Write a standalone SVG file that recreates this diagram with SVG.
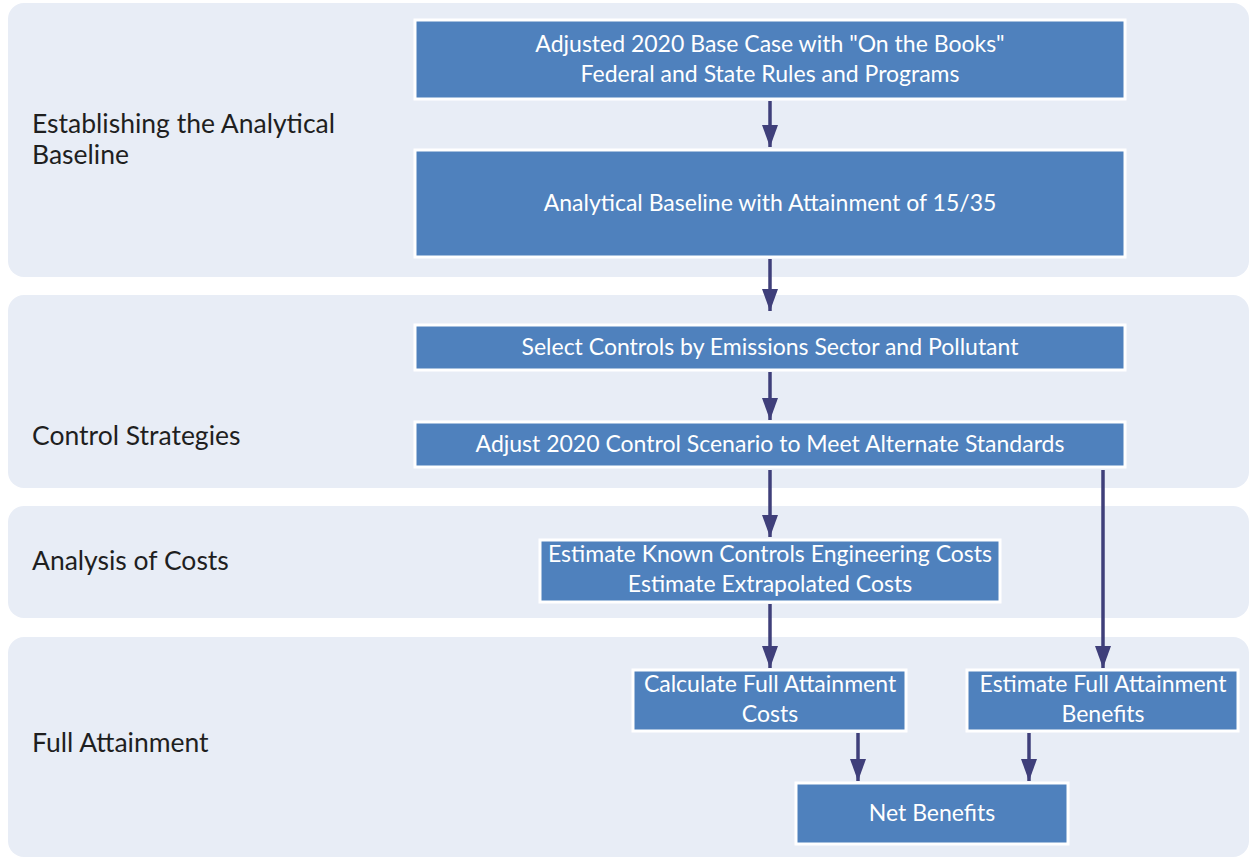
<svg xmlns="http://www.w3.org/2000/svg" width="1250" height="859" viewBox="0 0 1250 859">
<defs>
<style>
.band{fill:#e8edf6;}
.box{fill:#4f81bd;stroke:#ffffff;stroke-width:3;}
.bt{font-family:Lato,"Open Sans","Liberation Sans",sans-serif;font-size:23px;fill:#ffffff;text-anchor:middle;}
.lt{font-family:Lato,"Open Sans","Liberation Sans",sans-serif;font-size:26.5px;fill:#1f1f1f;}
.arr{stroke:#3f3f7a;stroke-width:3.5;fill:none;marker-end:url(#ah);}
</style>
<marker id="ah" markerWidth="22" markerHeight="16" refX="22" refY="8" orient="auto" markerUnits="userSpaceOnUse" viewBox="0 0 22 16">
<path d="M0,0 L22,8 L0,16 z" fill="#3f3f7a"/>
</marker>
</defs>
<rect width="1250" height="859" fill="#ffffff"/>
<g id="bands">
<rect class="band" x="8" y="3" width="1241" height="274" rx="16"/>
<rect class="band" x="8" y="295" width="1241" height="193" rx="16"/>
<rect class="band" x="8" y="506" width="1241" height="112" rx="16"/>
<rect class="band" x="8" y="637" width="1241" height="220" rx="16"/>
</g>
<g id="band-labels">
<text class="lt" x="32" y="133">Establishing the Analytical</text>
<text class="lt" x="32" y="164">Baseline</text>
<text class="lt" x="32" y="445">Control Strategies</text>
<text class="lt" x="32" y="570">Analysis of Costs</text>
<text class="lt" x="32" y="752">Full Attainment</text>
</g>
<g id="connectors">
<line class="arr" x1="770" y1="101" x2="770" y2="147"/>
<line class="arr" x1="770" y1="259" x2="770" y2="311"/>
<line class="arr" x1="770" y1="372" x2="770" y2="420"/>
<line class="arr" x1="770" y1="470" x2="770" y2="537"/>
<line class="arr" x1="1103" y1="470" x2="1103" y2="668"/>
<line class="arr" x1="770" y1="604" x2="770" y2="668"/>
<line class="arr" x1="858" y1="733" x2="858" y2="781"/>
<line class="arr" x1="1029" y1="733" x2="1029" y2="781"/>
</g>
<g id="n1">
<rect class="box" x="415" y="20" width="710" height="79"/>
<text class="bt" x="770" y="52">Adjusted 2020 Base Case with "On the Books"</text>
<text class="bt" x="770" y="82">Federal and State Rules and Programs</text>
</g>
<g id="n2">
<rect class="box" x="415" y="150" width="710" height="107"/>
<text class="bt" x="770" y="211">Analytical Baseline with Attainment of 15/35</text>
</g>
<g id="n3">
<rect class="box" x="415" y="325" width="710" height="45"/>
<text class="bt" x="770" y="355">Select Controls by Emissions Sector and Pollutant</text>
</g>
<g id="n4">
<rect class="box" x="415" y="422" width="710" height="45"/>
<text class="bt" x="770" y="452">Adjust 2020 Control Scenario to Meet Alternate Standards</text>
</g>
<g id="n5">
<rect class="box" x="540" y="540" width="460" height="62"/>
<text class="bt" x="770" y="562">Estimate Known Controls Engineering Costs</text>
<text class="bt" x="770" y="592">Estimate Extrapolated Costs</text>
</g>
<g id="n6">
<rect class="box" x="633" y="670" width="273" height="61"/>
<text class="bt" x="770" y="692">Calculate Full Attainment</text>
<text class="bt" x="770" y="722">Costs</text>
</g>
<g id="n7">
<rect class="box" x="967" y="670" width="271" height="61"/>
<text class="bt" x="1103" y="692">Estimate Full Attainment</text>
<text class="bt" x="1103" y="722">Benefits</text>
</g>
<g id="n8">
<rect class="box" x="796" y="783" width="272" height="61"/>
<text class="bt" x="932" y="821">Net Benefits</text>
</g>
</svg>
